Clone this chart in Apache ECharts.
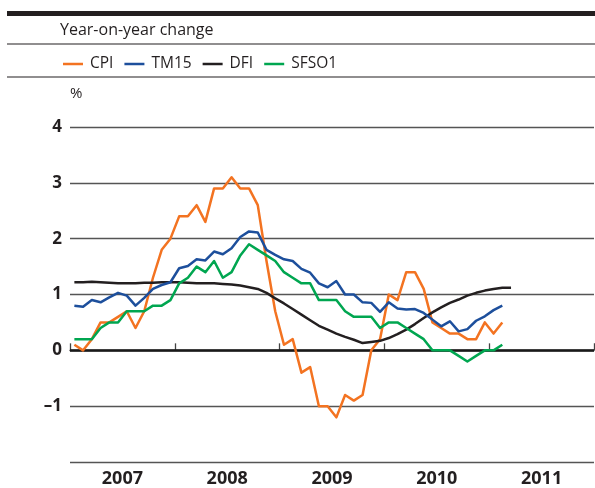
<!DOCTYPE html>
<html><head><meta charset="utf-8">
<script src="https://cdn.jsdelivr.net/npm/echarts@6/dist/echarts.min.js"></script>
<style>html,body{margin:0;padding:0;background:#fff}#c{width:595px;height:488px}</style>
</head><body><div id="c"></div>
<script>
// Year tick labels (x axis categories)
const years = ['2007','2008','2009','2010','2011'];
// Y tick range
const yTicks = [-2, -1, 0, 1, 2, 3, 4];
// Monthly values, starting January 2007
const cpi = [0.1,0.0,0.2,0.5,0.5,0.6,0.7,0.4,0.7,1.3,1.8,2.0,
             2.4,2.4,2.6,2.3,2.9,2.9,3.1,2.9,2.9,2.6,1.6,0.7,
             0.1,0.2,-0.4,-0.3,-1.0,-1.0,-1.2,-0.8,-0.9,-0.8,0.0,0.2,
             1.0,0.9,1.4,1.4,1.1,0.5,0.4,0.3,0.3,0.2,0.2,0.5,
             0.3,0.5];
const tm15 = [0.8,0.78,0.9,0.86,0.95,1.03,0.98,0.8,0.94,1.1,1.17,1.22,
              1.47,1.51,1.63,1.61,1.77,1.72,1.83,2.03,2.13,2.11,1.8,1.71,
              1.63,1.6,1.46,1.39,1.2,1.13,1.24,1.0,1.0,0.86,0.85,0.69,
              0.86,0.75,0.73,0.74,0.67,0.55,0.43,0.52,0.34,0.38,0.53,0.61,
              0.72,0.8];
const dfi = [1.22,1.22,1.23,1.22,1.21,1.20,1.20,1.20,1.21,1.21,1.22,1.22,
             1.22,1.21,1.20,1.20,1.20,1.19,1.18,1.16,1.13,1.10,1.03,0.93,
             0.84,0.74,0.64,0.54,0.44,0.37,0.30,0.24,0.19,0.13,0.15,0.17,
             0.22,0.29,0.37,0.47,0.58,0.68,0.77,0.85,0.91,0.98,1.03,1.07,
             1.10,1.12,1.12];
const sfso1 = [0.2,0.2,0.2,0.4,0.5,0.5,0.7,0.7,0.7,0.8,0.8,0.9,
               1.2,1.3,1.5,1.4,1.6,1.3,1.4,1.7,1.9,1.8,1.7,1.6,
               1.4,1.3,1.2,1.2,0.9,0.9,0.9,0.7,0.6,0.6,0.6,0.4,
               0.5,0.5,0.4,0.3,0.2,0.0,0.0,0.0,-0.1,-0.2,-0.1,0.0,
               0.0,0.1];
const seriesNames = ['CPI','TM15','DFI','SFSO1'];
const colors = ['#F37321','#1D4F9C','#231F20','#00A650'];

const FONT = '"Open Sans"';
const toXY = arr => arr.map((v, i) => [i + 0.5, v]);
const allData = [cpi, tm15, dfi, sfso1];

const chart = echarts.init(document.getElementById('c'), null, {renderer: 'canvas'});
const series = allData.map((d, k) => ({
  name: seriesNames[k], type: 'line', xAxisIndex: 1, yAxisIndex: 0,
  data: toXY(d), showSymbol: false, symbol: 'none', smooth: false,
  lineStyle: {color: colors[k], width: 2.5, join: 'round'},
  itemStyle: {color: colors[k]}, z: 5 + (k === 2 ? 0 : k),
  animation: false
}));
series[0].markLine = {
  silent: true, symbol: 'none', label: {show: false}, animation: false,
  lineStyle: {color: '#1a1a1a', width: 2.5, type: 'solid'},
  data: [{yAxis: 0}], z: 3
};

chart.setOption({
  animation: false,
  backgroundColor: '#fff',
  textStyle: {fontFamily: FONT},
  grid: {left: 70, right: 1, top: 127, bottom: 25, containLabel: false},
  legend: {
    left: 58, top: 51, icon: 'rect', itemWidth: 20, itemHeight: 2.5, itemGap: 11,
    data: seriesNames,
    textStyle: {fontFamily: FONT, fontSize: 15.5, color: '#231F20', padding: [0, 0, 0, 2]}
  },
  xAxis: [
    {
      type: 'category', data: years, boundaryGap: true, position: 'bottom',
      axisLine: {show: true, lineStyle: {color: '#444', width: 1.3}},
      axisTick: {show: true, inside: true, length: 7, lineStyle: {color: '#444', width: 1.3}},
      axisLabel: {fontFamily: FONT, fontSize: 18, fontWeight: 'bold', color: '#231F20', margin: 8},
      splitLine: {show: false}
    },
    {
      type: 'value', min: 0, max: 60, show: false, position: 'bottom'
    }
  ],
  yAxis: {
    type: 'value', min: yTicks[0], max: yTicks[yTicks.length - 1], interval: 1,
    axisLine: {show: false}, axisTick: {show: false},
    axisLabel: {
      fontFamily: FONT, fontSize: 17, fontWeight: 'bold', color: '#231F20', margin: 8,
      formatter: v => v === -2 ? '' : (v < 0 ? '\u2013' + Math.abs(v) : String(v))
    },
    splitLine: {show: true, lineStyle: {color: '#555', width: 1.3}}
  },
  graphic: [
    {type: 'rect', shape: {x: 7, y: 11, width: 588, height: 5}, style: {fill: '#231F20'}},
    {type: 'text', left: 60, top: 22, style: {text: 'Year-on-year change', font: '16px ' + FONT, fill: '#231F20'}},
    {type: 'line', shape: {x1: 7, y1: 44, x2: 595, y2: 44}, style: {stroke: '#231F20', lineWidth: 1.2}},
    {type: 'line', shape: {x1: 7, y1: 77, x2: 595, y2: 77}, style: {stroke: '#231F20', lineWidth: 1.2}},
    {type: 'text', left: 70, top: 86, style: {text: '%', font: '15px ' + FONT, fill: '#231F20'}}
  ],
  series: series
});
</script></body></html>
